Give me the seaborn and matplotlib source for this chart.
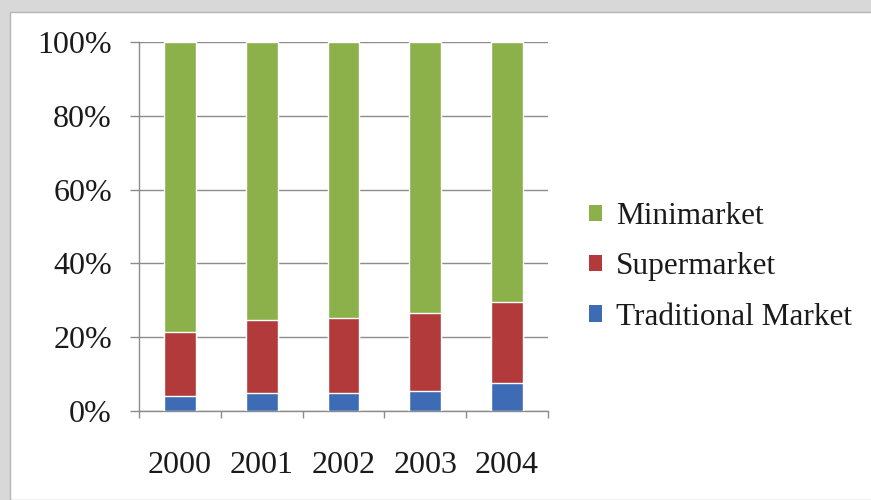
import matplotlib
matplotlib.use("Agg")
import matplotlib.pyplot as plt
from matplotlib.patches import Rectangle, Patch
from matplotlib.ticker import FixedLocator, PercentFormatter
import seaborn as sns
import pandas as pd
import numpy as np

# Market share by year (percent)
years = ["2000", "2001", "2002", "2003", "2004"]
traditional = [4.0, 4.8, 4.8, 5.4, 7.5]
supermarket = [17.5, 19.9, 20.5, 21.1, 22.1]
minimarket = [78.5, 75.3, 74.7, 73.5, 70.4]

series = ["Minimarket", "Supermarket", "Traditional Market"]
colors = {"Minimarket": "#8cb04a", "Supermarket": "#b33a3b", "Traditional Market": "#3d6cb4"}

df = pd.DataFrame({"year": years, "Traditional Market": traditional,
                   "Supermarket": supermarket, "Minimarket": minimarket})
# cumulative tops for stacking
df["t_top"] = df["Traditional Market"]
df["s_top"] = df["t_top"] + df["Supermarket"]
df["m_top"] = df["s_top"] + df["Minimarket"]

sns.set_style("white")
plt.rcParams["font.family"] = ["Liberation Serif", "DejaVu Serif"]

fig = plt.figure(figsize=(8.71, 5), dpi=100)
fig.patch.set_facecolor("#d8d8d8")
fig.patches.append(Rectangle((10 / 871, 0), 1, 1 - 12 / 500, transform=fig.transFigure,
                             facecolor="white", edgecolor="#b5b5b5", lw=1, zorder=-5))

ax = fig.add_axes([139 / 871, 89 / 500, 409 / 871, 369 / 500])
ax.set_facecolor("none")

w = 0.39
sns.barplot(data=df, x="year", y="m_top", color=colors["Minimarket"], width=w, ax=ax,
            saturation=1, zorder=3)
sns.barplot(data=df, x="year", y="s_top", color=colors["Supermarket"], width=w, ax=ax,
            saturation=1, zorder=3)
sns.barplot(data=df, x="year", y="t_top", color=colors["Traditional Market"], width=w, ax=ax,
            saturation=1, zorder=3)

ax.set_xlim(-0.5, 4.5)
ax.set_ylim(0, 100)
ax.set_yticks(np.arange(0, 101, 20))
ax.yaxis.set_major_formatter(PercentFormatter(decimals=0))
ax.grid(axis="y", color="#8c8c8c", lw=1, zorder=1)
ax.set_axisbelow(True)
ax.set_xlabel("")
ax.set_ylabel("")

for s in ["top", "right"]:
    ax.spines[s].set_visible(False)
for s in ["left", "bottom"]:
    ax.spines[s].set_color("#8c8c8c")
    ax.spines[s].set_linewidth(1)

ax.tick_params(axis="y", length=6.5, width=1, color="#8c8c8c", pad=13,
               labelsize=23, labelcolor="#1a1a1a", direction="out", left=True)
ax.tick_params(axis="x", which="major", length=0, pad=29, labelsize=23, labelcolor="#1a1a1a")
ax.xaxis.set_minor_locator(FixedLocator(np.arange(-0.5, 5, 1)))
ax.tick_params(axis="x", which="minor", length=5, width=1, color="#8c8c8c",
               direction="out", bottom=True)

handles = [Patch(facecolor=colors[s], edgecolor="none") for s in series]
fig.legend(handles, series, loc="upper left", bbox_to_anchor=(561 / 871, 1 - 174 / 500),
           frameon=False, fontsize=22.5, handlelength=0.42, handleheight=0.42,
           handletextpad=0.45, labelspacing=0.68, labelcolor="#1a1a1a")

fig.savefig("out.png", dpi=100, facecolor=fig.get_facecolor())
